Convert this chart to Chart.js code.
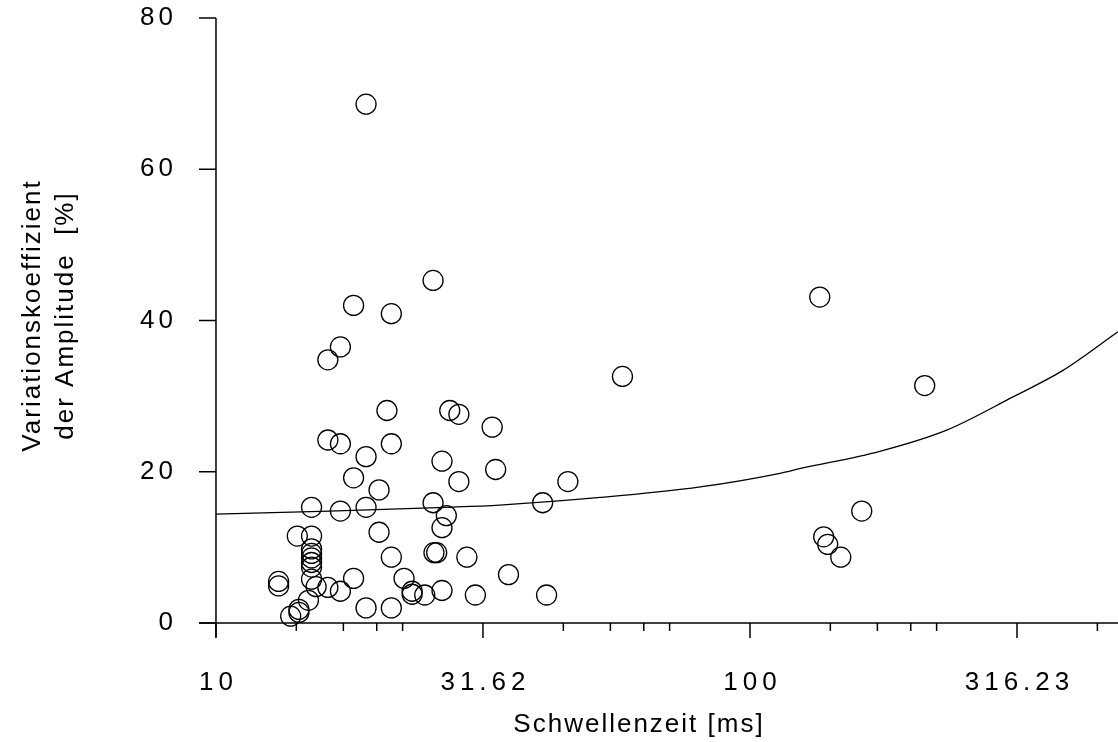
<!DOCTYPE html>
<html>
<head>
<meta charset="utf-8">
<script src="https://cdn.jsdelivr.net/npm/chart.js@4.4.0/dist/chart.umd.min.js"></script>
<style>
    html, body { margin: 0; padding: 0; background: #fff; }
    #wrap { width: 1118px; height: 742px; }
</style>
</head>
<body>
<div id="wrap"><canvas id="chart-schwelle"></canvas></div>
<script>
'use strict';

// Messpunkte: Schwellenzeit [ms] und Variationskoeffizient [%]
var time_ms = [19.1, 25.5, 18.1, 21.3, 135.1, 17.1, 16.2, 57.7, 212.4, 20.9,
    27.4, 28.5, 32.9, 16.2, 17.1, 21.3, 19.1, 26.5, 33.4, 18.1,
    28.5, 45.6, 20.2, 40.9, 25.5, 15.1, 17.1, 19.1, 161.9, 27.0,
    26.5, 20.2, 14.2, 15.1, 137.4, 139.8, 15.1, 15.1, 15.1, 15.1,
    15.1, 25.6, 25.9, 21.3, 29.5, 147.9, 35.3, 13.1, 13.1, 18.1,
    22.5, 15.1, 15.4, 16.2, 17.1, 23.3, 23.3, 24.6, 26.5, 30.6,
    41.6, 19.1, 21.3, 14.9, 14.3, 14.3, 13.8];
var cv_amp = [68.6, 45.3, 42.0, 40.9, 43.1, 36.5, 34.8, 32.6, 31.4, 28.1,
    28.1, 27.6, 25.9, 24.2, 23.7, 23.7, 22.0, 21.4, 20.3, 19.2,
    18.7, 18.7, 17.6, 15.9, 15.9, 15.3, 14.8, 15.3, 14.8, 14.2,
    12.6, 12.0, 11.5, 11.5, 11.4, 10.4, 9.8, 9.2, 8.6, 8.0,
    7.4, 9.3, 9.3, 8.7, 8.7, 8.7, 6.4, 5.5, 4.9, 5.9,
    5.9, 5.8, 4.8, 4.7, 4.2, 4.2, 3.8, 3.7, 4.3, 3.7,
    3.7, 2.0, 2.0, 3.0, 1.8, 1.4, 0.9];

// Regressionskurve
var fit_x = [10, 16.3, 26.9, 34, 52.4, 80.7, 113.8, 123.8, 175, 233.5, 310.8, 385.6, 488.7];
var fit_y = [14.4, 14.8, 15.3, 15.6, 16.6, 18.0, 19.8, 20.4, 22.7, 25.5, 29.9, 33.4, 38.5];

// Achsen
var x_major = [10, 31.62, 100, 316.23];
var x_labels = ['10', '31.62', '100', '316.23'];
var x_minor = [14.14, 17.32, 20, 22.36, 44.72, 54.77, 63.25, 70.71,
    141.4, 173.2, 200, 223.6, 447.2];
var y_ticks = [0, 20, 40, 60, 80];

var FONT = '26px "Liberation Sans", Arial, sans-serif';

var points = time_ms.map(function(t, i) {
    return { x: t, y: cv_amp[i] };
});
var fit = fit_x.map(function(t, i) {
    return { x: t, y: fit_y[i] };
});

function drawText(ctx, text, x, y, align, spacing) {
    ctx.letterSpacing = spacing + 'px';
    ctx.textAlign = align;
    // trailing letter spacing would shift centred text to the left
    if (align === 'center') x += spacing / 2;
    if (align === 'right') x += spacing;
    ctx.fillText(text, x, y);
}

var axesPlugin = {
    id: 'axes_plugin',
    afterDraw: function(chart) {
        var ctx = chart.ctx;
        var xs = chart.scales.x;
        var ys = chart.scales.y;
        var area = chart.chartArea;
        var x0 = xs.getPixelForValue(10);
        var yBottom = ys.getPixelForValue(0);

        ctx.save();
        ctx.strokeStyle = '#000';
        ctx.lineWidth = 1.5;

        // x-Achse
        ctx.beginPath();
        ctx.moveTo(area.left, yBottom);
        ctx.lineTo(area.right, yBottom);
        ctx.stroke();

        // y-Achse
        ctx.beginPath();
        ctx.moveTo(x0, ys.getPixelForValue(80));
        ctx.lineTo(x0, yBottom + 14);
        ctx.stroke();

        x_major.forEach(function(v) {
            var px = xs.getPixelForValue(v);
            ctx.beginPath();
            ctx.moveTo(px, yBottom);
            ctx.lineTo(px, yBottom + 15);
            ctx.stroke();
        });
        x_minor.forEach(function(v) {
            var px = xs.getPixelForValue(v);
            if (px > area.right) return;
            ctx.beginPath();
            ctx.moveTo(px, yBottom);
            ctx.lineTo(px, yBottom + 8);
            ctx.stroke();
        });
        y_ticks.forEach(function(v) {
            var py = ys.getPixelForValue(v);
            ctx.beginPath();
            ctx.moveTo(x0 - 17, py);
            ctx.lineTo(x0, py);
            ctx.stroke();
        });

        ctx.fillStyle = '#000';
        ctx.font = FONT;
        ctx.textBaseline = 'middle';
        y_ticks.forEach(function(v) {
            drawText(ctx, String(v), 173, ys.getPixelForValue(v), 'right', 4);
        });
        ctx.textBaseline = 'alphabetic';
        x_major.forEach(function(v, i) {
            drawText(ctx, x_labels[i], xs.getPixelForValue(v), 690, 'center', 5);
        });
        drawText(ctx, 'Schwellenzeit [ms]', 638, 732, 'center', 2);

        // y-Titel, zweizeilig
        var midY = (area.top + area.bottom) / 2;
        ctx.translate(0, midY - 4);
        ctx.rotate(-Math.PI / 2);
        ctx.textBaseline = 'middle';
        drawText(ctx, 'Variationskoeffizient', 0, 33, 'center', 2);
        drawText(ctx, 'der Amplitude  [%]', 0, 66, 'center', 2);
        ctx.restore();
    }
};

var ctx_schwelle = document.getElementById('chart-schwelle').getContext('2d');

var chart_schwelle = new Chart(ctx_schwelle, {
    data: {
        datasets: [{
                type: 'scatter',
                data: points,
                pointStyle: 'circle',
                pointRadius: 10,
                borderColor: '#000',
                backgroundColor: 'rgba(0,0,0,0)',
                borderWidth: 1.3,
                clip: false
            },
            {
                type: 'line',
                data: fit,
                borderColor: '#000',
                borderWidth: 1.3,
                pointRadius: 0,
                fill: false,
                cubicInterpolationMode: 'monotone',
                clip: false
            }
        ]
    },
    options: {
        responsive: true,
        maintainAspectRatio: false,
        animation: false,
        layout: {
            autoPadding: false,
            padding: { left: 199, right: 0, top: 18, bottom: 119 }
        },
        scales: {
            x: {
                type: 'logarithmic',
                display: false,
                min: 9.294,
                max: 488.8
            },
            y: {
                type: 'linear',
                display: false,
                min: 0,
                max: 80
            }
        },
        plugins: {
            legend: { display: false },
            tooltip: { enabled: false }
        }
    },
    plugins: [axesPlugin]
});
</script>
</body>
</html>
